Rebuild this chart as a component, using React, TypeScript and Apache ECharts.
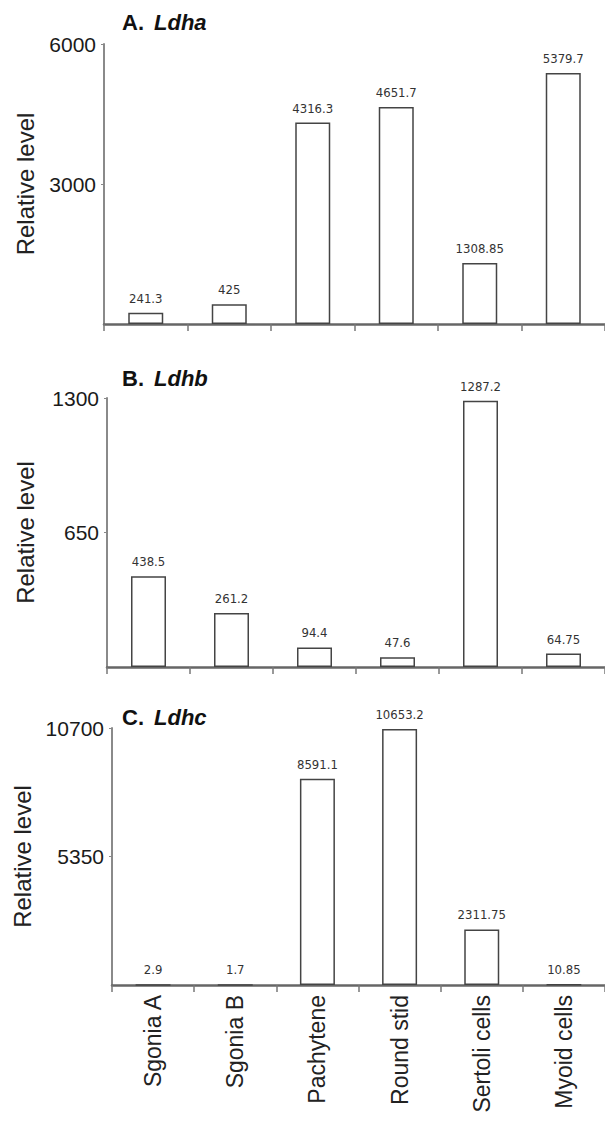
import React, { useEffect, useRef } from "react";
import * as echarts from "echarts";

const categories = ["Sgonia A", "Sgonia B", "Pachytene", "Round stid", "Sertoli cells", "Myoid cells"];
const ldha = [241.3, 425, 4316.3, 4651.7, 1308.85, 5379.7];
const ldhb = [438.5, 261.2, 94.4, 47.6, 1287.2, 64.75];
const ldhc = [2.9, 1.7, 8591.1, 10653.2, 2311.75, 10.85];
const ticksA = [0, 3000, 6000];
const ticksB = [0, 650, 1300];
const ticksC = [0, 5350, 10700];
const panelLetters = ["A.", "B.", "C."];
const geneNames = ["Ldha", "Ldhb", "Ldhc"];
const yName = "Relative level";

const FONT = "'Liberation Sans', Arial, sans-serif";
const NARROW = "'Liberation Sans Narrow', 'Arial Narrow', 'DejaVu Sans Condensed', sans-serif";

export default function App() {
  const ref = useRef<HTMLDivElement>(null);
  useEffect(() => {
    if (!ref.current) return;
    const chart = echarts.init(ref.current, undefined, { renderer: "svg" });
    const seriesData = [ldha, ldhb, ldhc];
    const ticks = [ticksA, ticksB, ticksC];
    const grids = [
      { left: 104, right: -12, top: 44, height: 280 },
      { left: 107, right: -10, top: 398, height: 269 },
      { left: 112, right: -11, top: 728, height: 257 },
    ];
    const nameGaps = [67, 70, 75];
    const titleCenters = [23, 379, 718];

    const xAxis = grids.map((_, i) => ({
      type: "category",
      gridIndex: i,
      data: categories,
      boundaryGap: true,
      axisLine: { show: true, lineStyle: { color: "#666", width: 2.5 } },
      axisTick: { show: true, length: 7, lineStyle: { color: "#777", width: 1.5 } },
      axisLabel: {
        show: i === 2,
        rotate: 90,
        margin: 10,
        fontSize: 23,
        fontFamily: FONT,
        color: "#222",
      },
    }));

    const yAxis = grids.map((_, i) => ({
      type: "value",
      gridIndex: i,
      min: ticks[i][0],
      max: ticks[i][2],
      interval: ticks[i][1],
      splitLine: { show: false },
      axisLine: { show: true, lineStyle: { color: "#8a8a8a", width: 2 } },
      axisTick: { show: true, length: 3, lineStyle: { color: "#888" } },
      axisLabel: {
        showMinLabel: false,
        fontSize: 21,
        fontFamily: FONT,
        color: "#1a1a1a",
        margin: 8,
        formatter: (v: number) => String(v),
      },
      name: yName,
      nameLocation: "middle",
      nameGap: nameGaps[i],
      nameTextStyle: { fontSize: 24, fontFamily: FONT, color: "#222" },
    }));

    const series = seriesData.map((d, i) => ({
      type: "bar",
      xAxisIndex: i,
      yAxisIndex: i,
      data: d,
      barWidth: 35,
      itemStyle: { color: "#fff", borderColor: "#444", borderWidth: 1.5 },
      label: {
        show: true,
        position: "top",
        distance: 8,
        fontSize: 13,
        fontFamily: NARROW,
        color: "#333",
      },
    }));

    const graphic: any[] = [];
    titleCenters.forEach((c, i) => {
      graphic.push({
        type: "text",
        left: 122,
        top: c - 12,
        style: { text: panelLetters[i], font: `bold 22px ${FONT}`, fill: "#111" },
      });
      graphic.push({
        type: "text",
        left: 154,
        top: c - 12,
        style: { text: geneNames[i], font: `italic bold 22px ${FONT}`, fill: "#111" },
      });
    });

    chart.setOption({
      animation: false,
      backgroundColor: "#fff",
      grid: grids,
      xAxis,
      yAxis,
      series,
      graphic,
    } as any);
    return () => chart.dispose();
  }, []);
  return (
    <div
      ref={ref}
      style={{ position: "absolute", left: 0, top: 0, width: 605, height: 1123 }}
    />
  );
}
